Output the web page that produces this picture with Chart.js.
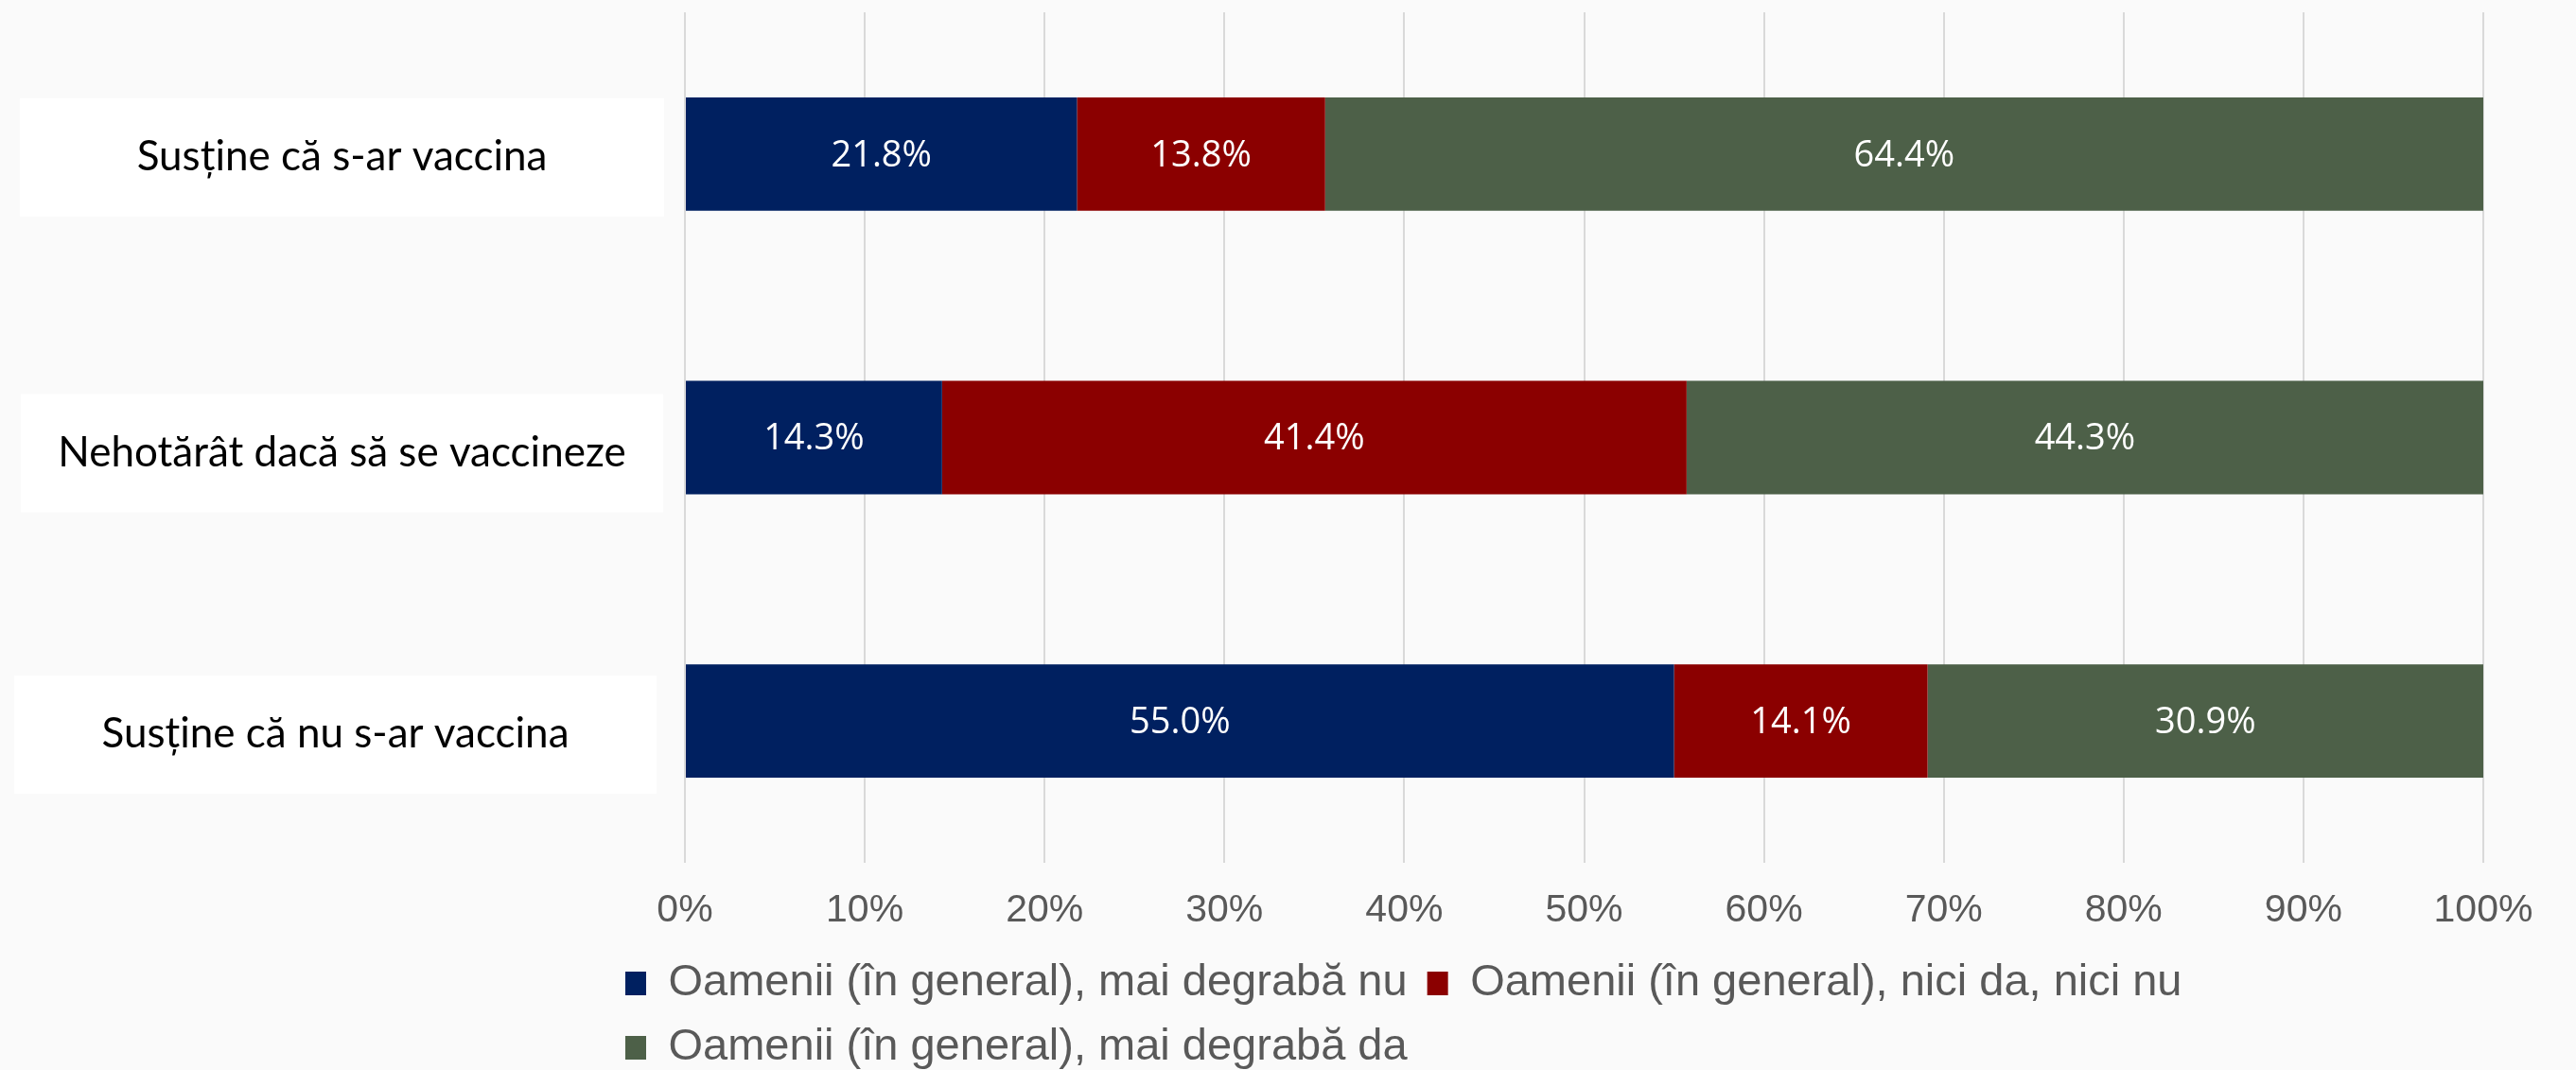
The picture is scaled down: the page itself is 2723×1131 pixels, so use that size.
<!DOCTYPE html>
<html>
<head>
<meta charset="utf-8">
<script src="https://cdn.jsdelivr.net/npm/chart.js@4"></script>
<style>
  html, body { margin: 0; padding: 0; background: #fafafa; }
  #wrap { width: 2723px; height: 1131px; position: relative; }
</style>
</head>
<body>
<div id="wrap"><canvas id="chart"></canvas></div>
<script>
// categorii (de sus in jos)
const categories = [
  'Susține că s-ar vaccina',
  'Nehotărât dacă să se vaccineze',
  'Susține că nu s-ar vaccina'
];

const seriesNames = [
  'Oamenii (în general), mai degrabă nu',
  'Oamenii (în general), nici da, nici nu',
  'Oamenii (în general), mai degrabă da'
];

const valuesNu = [21.8, 14.3, 55.0];
const valuesNici = [13.8, 41.4, 14.1];
const valuesDa = [64.4, 44.3, 30.9];

const seriesColors = ['#002060', '#8b0000', '#4d6048'];

// casetele albe cu textul categoriilor (casete text separate in original)
const labelBoxes = {
  id: 'labelBoxes',
  beforeDraw(chart) {
    const ctx = chart.ctx;
    const yScale = chart.scales.y;
    // pozitia fiecarei casete fata de centrul barei
    const boxes = [
      { left: 21, width: 681, dy: 3 },
      { left: 22, width: 679, dy: 16 },
      { left: 15, width: 679, dy: 14 }
    ];
    ctx.save();
    ctx.font = '44px Lato, "Noto Sans", sans-serif';
    ctx.textAlign = 'center';
    ctx.textBaseline = 'middle';
    chart.data.labels.forEach((label, i) => {
      const b = boxes[i];
      const y = yScale.getPixelForValue(i) + b.dy;
      ctx.fillStyle = '#ffffff';
      ctx.fillRect(b.left, y - 62, b.width, 125);
      ctx.fillStyle = '#000000';
      ctx.fillText(label, b.left + b.width / 2, y);
    });
    ctx.restore();
  }
};

// etichete de valoare in mijlocul fiecarui segment
const barLabels = {
  id: 'barLabels',
  afterDatasetsDraw(chart) {
    const ctx = chart.ctx;
    ctx.save();
    ctx.font = '38px "Open Sans", "Noto Sans", sans-serif';
    ctx.fillStyle = '#ffffff';
    ctx.textAlign = 'center';
    ctx.textBaseline = 'middle';
    chart.data.datasets.forEach((ds, di) => {
      const meta = chart.getDatasetMeta(di);
      meta.data.forEach((bar, i) => {
        const p = bar.getCenterPoint();
        ctx.fillText(ds.data[i].toFixed(1) + '%', p.x, p.y + 2);
      });
    });
    ctx.restore();
  }
};

// legenda porneste din stanga, ca in original
const legendShift = {
  id: 'legendShift',
  afterLayout(chart) {
    const lg = chart.legend;
    if (lg) {
      lg.left = 640;
      lg.top = lg.top + 4;
      lg.bottom = lg.bottom + 4;
    }
  }
};

const ctx = document.getElementById('chart');

new Chart(ctx, {
  type: 'bar',
  data: {
    labels: categories,
    datasets: [
      { label: seriesNames[0], data: valuesNu, backgroundColor: seriesColors[0] },
      { label: seriesNames[1], data: valuesNici, backgroundColor: seriesColors[1] },
      { label: seriesNames[2], data: valuesDa, backgroundColor: seriesColors[2] }
    ]
  },
  options: {
    indexAxis: 'y',
    responsive: true,
    maintainAspectRatio: false,
    animation: false,
    barPercentage: 0.4,
    categoryPercentage: 1.0,
    layout: {
      padding: { top: 13, right: 98, left: 0, bottom: -6 }
    },
    plugins: {
      legend: {
        position: 'bottom',
        align: 'start',
        fullSize: false,
        labels: {
          boxWidth: 22,
          boxHeight: 25,
          padding: 21,
          color: '#595959',
          font: { family: '"Liberation Sans", Arial, sans-serif', size: 47 }
        }
      },
      tooltip: { enabled: false }
    },
    scales: {
      x: {
        stacked: true,
        min: 0,
        max: 100,
        border: { display: false },
        grid: {
          color: '#d9d9d9',
          lineWidth: 2,
          drawTicks: false
        },
        ticks: {
          stepSize: 10,
          padding: 26,
          color: '#595959',
          font: { family: '"Liberation Sans", Arial, sans-serif', size: 41 },
          callback: v => v + '%'
        },
        afterFit(scale) {
          scale.height = 79;
        }
      },
      y: {
        stacked: true,
        border: { display: false },
        grid: { display: false, drawTicks: false },
        ticks: { display: false },
        afterFit(scale) {
          scale.width = 724;
          scale.paddingTop = 0;
          scale.paddingBottom = 0;
        }
      }
    }
  },
  plugins: [labelBoxes, barLabels, legendShift]
});
</script>
</body>
</html>
